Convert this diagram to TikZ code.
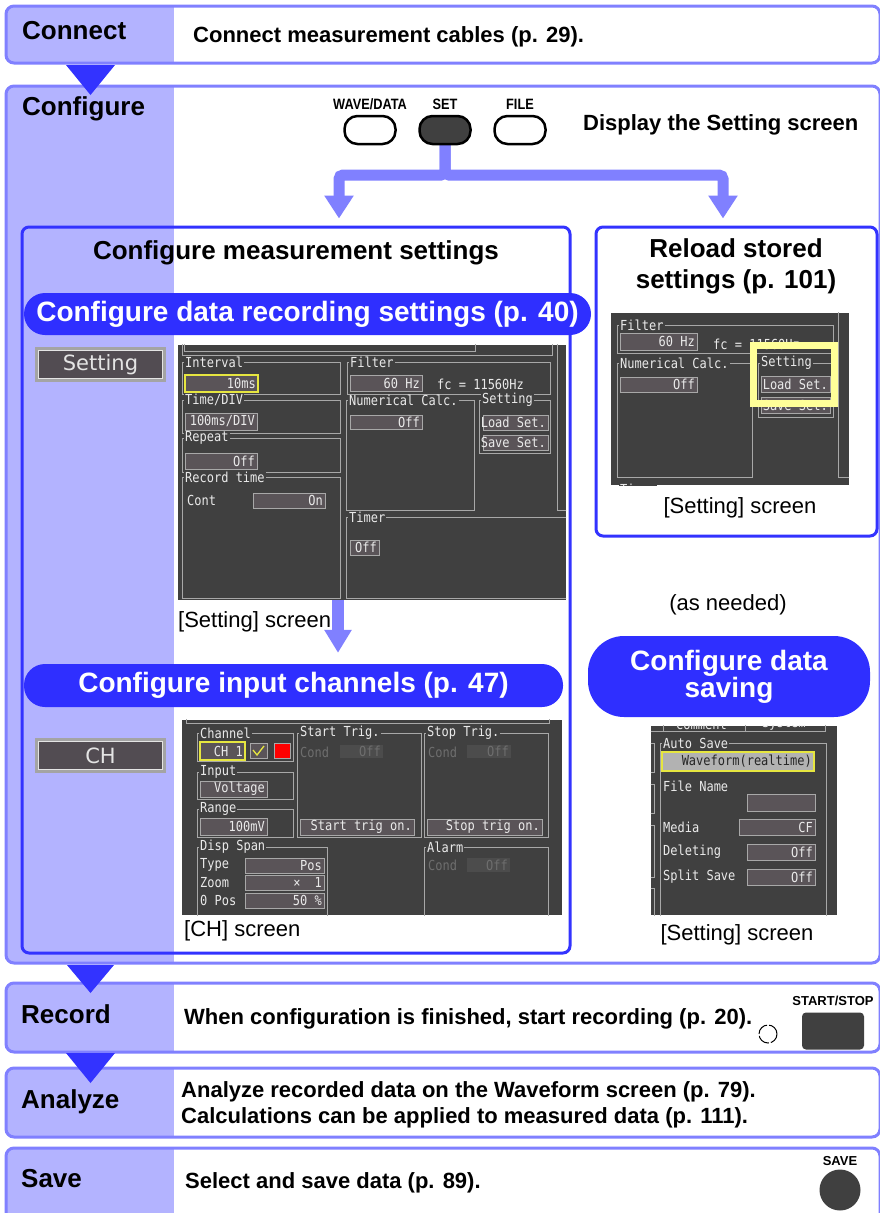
\documentclass[tikz,border=0pt]{standalone}
\usepackage{fontspec}
\setmainfont{Liberation Sans}
\newfontfamily\scrfont{DejaVu Sans Mono}
\newfontfamily\keyfont{DejaVu Sans}
\usetikzlibrary{arrows.meta,positioning}

\definecolor{tabfill}{HTML}{B3B3FF}
\definecolor{tabline}{HTML}{8080FF}
\definecolor{stepblue}{HTML}{3333FF}
\definecolor{pillblue}{HTML}{2F2FFF}
\definecolor{scrbg}{HTML}{404040}
\definecolor{scrline}{HTML}{A8A8A8}
\definecolor{scrfield}{HTML}{5A5458}
\definecolor{scrtext}{HTML}{EAEAEA}
\definecolor{scrdim}{HTML}{6E6E6E}
\definecolor{scrdimfill}{HTML}{4C4C4C}
\definecolor{selframe}{HTML}{E6E640}
\definecolor{hiyellow}{HTML}{FFFF99}
\definecolor{keygray}{HTML}{A4A4A4}
\definecolor{keydark}{HTML}{524C52}
\definecolor{keyline}{HTML}{E4E4E4}

\newcommand{\narrow}[2][0.85]{\scalebox{#1}[1]{#2}}
\newcommand{\tall}[1]{\scalebox{1}[1.15]{#1}}

% one stage of the flow, from top to bottom edge
\newcommand{\stagebox}[2]{%
  \begin{scope}
    \clip[rounded corners=8pt] (6,#1) rectangle (880,#2);
    \fill[white] (6,#1) rectangle (880,#2);
    \fill[tabfill] (6,#1) rectangle (174,#2);
  \end{scope}
  \draw[tabline, line width=3pt, rounded corners=8pt] (6,#1) rectangle (880,#2);}

% framed group on a screen: name, label, corners
\newcommand{\scrgrp}[6]{%
  \draw[scrline, line width=0.8pt] (#3,#4) rectangle (#5,#6);
  \node[scrlabel] (#1) at ({#3+2},#4) {\tall{#2}};}

% value field on a screen: [frame], name, corners, value
\newcommand{\scrfld}[7][]{%
  \draw[scrline, fill=scrfield, line width=0.8pt, #1] (#3,#4) rectangle (#5,#6);
  \node[scrval, anchor=east] (#2) at ({#5-2},{(#4+#6)/2}) {\tall{#7}};}

% greyed-out field
\newcommand{\dimfld}[6]{%
  \fill[scrdimfill] (#2,#3) rectangle (#4,#5);
  \node[scrval, text=scrdim, anchor=east] (#1) at ({#4-2},{(#3+#5)/2}) {\tall{#6}};}

% plain text on a screen
\newcommand{\scrtxt}[4][scrtext]{%
  \node[scrval, text=#1, anchor=west] (#2) at #3 {\tall{#4}};}

% key on the left of a screen
\newcommand{\tabkey}[3]{%
  \fill[keygray] (35,#2) rectangle (166,{#2+35});
  \node[tabkeyface] (#1) at (100.5,{#2+17.5}) {#3};}

\begin{document}
\begin{tikzpicture}[x=1pt, y=-1pt,
    steptitle/.style={anchor=base west, inner sep=0pt, font=\bfseries\fontsize{26}{30}\selectfont},
    stepnote/.style={anchor=base west, inner sep=0pt, align=left, font=\bfseries\fontsize{22}{26}\selectfont},
    heading/.style={anchor=base, inner sep=0pt, align=center, font=\bfseries\fontsize{26}{31}\selectfont},
    caption/.style={inner sep=0pt, font=\fontsize{22}{26}\selectfont},
    innerbox/.style={draw=stepblue, line width=3pt, rounded corners=7pt, inner sep=0pt},
    pill/.style={fill=pillblue, text=white, inner sep=0pt, align=center, font=\bfseries\fontsize{28}{25}\selectfont},
    keycap/.style={draw=black, line width=2.5pt, minimum width=51pt, minimum height=28pt, rounded corners=13pt, inner sep=0pt},
    keylabel/.style={inner sep=0pt, font=\bfseries\fontsize{15}{15}\selectfont},
    fatarrow/.style={tabline, line width=11pt, -{Triangle[width=28pt, length=23pt]}},
    screen/.style={fill=scrbg, inner sep=0pt},
    tabkeyface/.style={fill=keydark, draw=keyline, line width=1.5pt, minimum width=124pt, minimum height=28pt,
      inner sep=0pt, text=keyline, font=\keyfont\fontsize{21}{21}\selectfont},
    scrlabel/.style={anchor=west, fill=scrbg, inner xsep=1pt, inner ysep=0pt, text=scrtext,
      font=\scrfont\fontsize{12}{13}\selectfont},
    scrval/.style={inner sep=0pt, text=scrtext, font=\scrfont\fontsize{12}{13}\selectfont}]

    \useasboundingbox (0,0) rectangle (880,1213);
    \fill[white] (0,0) rectangle (880,1213);

    % stages
    \stagebox{6}{63}
    \stagebox{86}{963}
    \stagebox{983}{1052}
    \stagebox{1068}{1137}
    \stagebox{1148}{1226}

    \fill[stepblue] (66,65) -- (115,65) -- (90.5,95) -- cycle;
    \fill[stepblue] (67,965) -- (114,965) -- (90.5,993) -- cycle;
    \fill[stepblue] (66,1053) -- (115,1053) -- (90.5,1083) -- cycle;

    \node[steptitle] (connect) at (22,39) {Connect};
    \node[stepnote] (connect-n) at (193,42) {Connect measurement cables (p. 29).};
    \node[steptitle] (configure) at (22,115) {Configure};
    \node[stepnote] (configure-n) at (583,130) {Display the Setting screen};
    \node[steptitle] (record) at (21,1023) {Record};
    \node[stepnote] (record-n) at (184,1024) {When configuration is finished, start recording (p. 20).};
    \node[steptitle] (analyze) at (21,1108) {Analyze};
    \node[stepnote] (analyze-n) at (181,1123) {Analyze recorded data on the Waveform screen (p. 79).\\
      Calculations can be applied to measured data (p. 111).};
    \node[steptitle] (save) at (21,1187) {Save};
    \node[stepnote] (save-n) at (185,1188) {Select and save data (p. 89).};

    % inner boxes
    \node[innerbox, minimum width=548pt, minimum height=726pt] (measbox) at (296,590) {};
    \node[innerbox, minimum width=281pt, minimum height=309pt] (loadbox) at (736.5,381.5) {};

    % panel keys
    \coordinate (forkL) at (339,175);
    \coordinate (forkR) at (723,175);
    \draw[fatarrow, rounded corners=4pt, shorten >=7pt] (445,140) |- (forkL) -- (forkL |- measbox.north);
    \draw[fatarrow, rounded corners=4pt, shorten >=7pt] (445,140) |- (forkR) -- (forkR |- loadbox.north);
    \node[keycap, fill=white] (wave) at (370,130) {};
    \node[keycap, fill=scrbg] (set) at (445,130) {};
    \node[keycap, fill=white] (file) at (520,130) {};
    \node[keylabel, above=5pt of wave] (wave-l) {\narrow{WAVE/DATA}};
    \node[keylabel, above=5pt of set] (set-l) {\narrow{SET}};
    \node[keylabel, above=5pt of file] (file-l) {\narrow{FILE}};

    \node[heading] (meas-h) at (296,259) {Configure measurement settings};
    \node[heading] (load-h) at (736,288) {Reload stored\\settings (p. 101)};

    \tabkey{setkey}{347}{Setting}
    \tabkey{chkey}{738}{CH}

    % Setting screen
    \node[screen, minimum width=388pt, minimum height=255pt] (setscr) at (372,472.5) {};
    \begin{scope}
    \clip (setscr.north west) rectangle (setscr.south east);
    \draw[scrline, line width=0.8pt] (182,335) rectangle (552,355) (184,335) rectangle (475,351);
    \draw[scrline, line width=0.8pt] (557,335) -- (557,510) -- (575,510);
    \scrgrp{s-int}{Interval}{182}{362}{340}{394}
    \scrfld[draw=selframe, line width=1.5pt]{s-intf}{185}{375}{258}{392}{10ms}
    \scrgrp{s-flt}{Filter}{347}{362}{550}{394}
    \scrfld{s-fltf}{350}{375}{422}{391}{60 Hz}
    \scrtxt{s-fc}{(437,384)}{fc = 11560Hz}
    \scrgrp{s-tdiv}{Time/DIV}{182}{400}{340}{433}
    \scrfld{s-tdivf}{185}{413}{257}{430}{100ms/DIV}
    \scrgrp{s-num}{Numerical Calc.}{346}{400}{474}{510}
    \scrfld{s-numf}{350}{415}{422}{429}{Off}
    \scrgrp{s-set}{Setting}{479}{400}{550}{453}
    \scrfld{s-load}{483}{415}{548}{430}{Load Set.}
    \scrfld{s-save}{483}{435}{548}{450}{Save Set.}
    \scrgrp{s-rep}{Repeat}{182}{438}{340}{472}
    \scrfld{s-repf}{185}{453}{257}{469}{Off}
    \scrgrp{s-rec}{Record time}{182}{477}{340}{598}
    \scrtxt{s-cont}{(187,500)}{Cont}
    \scrfld{s-contf}{253}{493}{325}{508}{On}
    \scrgrp{s-tmr}{Timer}{346}{517}{580}{598}
    \scrfld{s-tmrf}{350}{540}{379}{555}{Off}
    \end{scope}

    % Setting screen, stored settings
    \node[screen, minimum width=238pt, minimum height=172pt] (loadscr) at (730,399) {};
    \begin{scope}
    \clip (loadscr.north west) rectangle (loadscr.south east);
    \draw[scrline, line width=0.8pt] (838,305) -- (838,477) -- (855,477);
    \scrgrp{l-flt}{Filter}{617}{325}{833}{353}
    \scrfld{l-fltf}{620}{333}{697}{350}{60 Hz}
    \scrtxt{l-fc}{(713,344)}{fc = 11560Hz}
    \scrgrp{l-num}{Numerical Calc.}{617}{363}{752}{477}
    \scrfld{l-numf}{620}{377}{697}{392}{Off}
    \scrgrp{l-set}{Setting}{758}{363}{833}{417}
    \scrfld{l-load}{761}{376}{830}{392}{Load Set.}
    \scrfld{l-save}{761}{397}{830}{413}{Save Set.}
    \scrgrp{l-tmr}{Timer}{617}{489}{760}{540}
    \draw[hiyellow, line width=7pt] (753.5,345.5) rectangle (834.5,403.5);
    \end{scope}

    % CH screen
    \node[screen, minimum width=380pt, minimum height=195pt] (chscr) at (372,817.5) {};
    \begin{scope}
    \clip (chscr.north west) rectangle (chscr.south east);
    \draw[scrline, line width=0.8pt] (186,700) rectangle (549,723);
    \scrgrp{c-ch}{Channel}{197}{733}{293}{761}
    \scrfld[draw=selframe, line width=1.5pt]{c-chf}{200}{742}{245}{760}{CH 1}
    \draw[scrline, fill=scrfield, line width=0.8pt] (250,743) rectangle (267,758);
    \draw[selframe, line width=1.3pt] (253,750) -- (257,755) -- (264,746);
    \draw[scrline, fill=red, line width=0.8pt] (274,743) rectangle (290,758);
    \scrgrp{c-in}{Input}{197}{772}{293}{799}
    \scrfld{c-inf}{200}{781}{267}{797}{Voltage}
    \scrgrp{c-rng}{Range}{197}{809}{293}{837}
    \scrfld{c-rngf}{200}{818}{267}{835}{100mV}
    \scrgrp{c-st}{Start Trig.}{297}{733}{421}{837}
    \scrtxt[scrdim]{c-stc}{(300,752)}{Cond}
    \dimfld{c-stf}{340}{745}{383}{758}{Off}
    \scrfld{c-stb}{300}{819}{414}{835}{Start trig on.}
    \scrgrp{c-sp}{Stop Trig.}{424}{733}{548}{837}
    \scrtxt[scrdim]{c-spc}{(428,752)}{Cond}
    \dimfld{c-spf}{467}{745}{511}{758}{Off}
    \scrfld{c-spb}{427}{819}{542}{835}{Stop trig on.}
    \scrgrp{c-ds}{Disp Span}{197}{847}{327}{925}
    \scrtxt{c-type}{(200,865)}{Type}
    \scrfld{c-typef}{245}{858}{324}{873}{Pos}
    \scrtxt{c-zoom}{(200,883)}{Zoom}
    \scrfld{c-zoomf}{245}{875}{324}{890}{×\hspace{14pt}1}
    \scrtxt{c-pos}{(200,900)}{0 Pos}
    \scrfld{c-posf}{245}{893}{324}{908}{50 \%}
    \scrgrp{c-al}{Alarm}{424}{847}{548}{925}
    \scrtxt[scrdim]{c-alc}{(428,865)}{Cond}
    \dimfld{c-alf}{467}{858}{510}{872}{Off}
    \end{scope}

    % Setting screen, auto save
    \node[screen, minimum width=186pt, minimum height=189pt] (savescr) at (744,820.5) {};
    \begin{scope}
    \clip (savescr.north west) rectangle (savescr.south east);
    \draw[scrline, line width=0.8pt] (640,712) rectangle (663,731) (663,712) rectangle (745,731)
        (745,712) rectangle (825,731);
    \scrtxt{v-tab1}{(676,724)}{Comment}
    \scrtxt{v-tab2}{(762,724)}{System}
    \draw[scrline, line width=0.8pt] (640,743) rectangle (654,772) (640,784) rectangle (654,813)
        (640,825) rectangle (654,877) (640,888) rectangle (654,930);
    \scrgrp{v-auto}{Auto Save}{660}{743}{826}{930}
    \draw[selframe, fill=black!30, line width=1.5pt] (662,752) rectangle (814,771);
    \node[scrval, text=black!85, anchor=east] (v-wave) at (812,761.5) {\tall{Waveform(realtime)}};
    \scrtxt{v-fn}{(663,786)}{File Name}
    \scrfld{v-fnf}{747}{794}{815}{811}{}
    \scrtxt{v-med}{(663,827)}{Media}
    \scrfld{v-medf}{739}{819}{815}{835}{CF}
    \scrtxt{v-del}{(663,852)}{Deleting}
    \scrfld{v-delf}{747}{844}{815}{860}{Off}
    \scrtxt{v-spl}{(663,877)}{Split Save}
    \scrfld{v-splf}{747}{869}{815}{885}{Off}
    \end{scope}

    % sub-steps
    \node[pill, minimum width=567pt, minimum height=42pt, rounded corners=21pt] (recpill) at (307.5,314)
        {Configure data recording settings (p. 40)};
    \node[pill, minimum width=539pt, minimum height=43pt, rounded corners=21pt] (chpill) at (293.5,685.5)
        {Configure input channels (p. 47)};
    \node[pill, minimum width=282pt, minimum height=81pt, rounded corners=36pt] (savepill) at (729,676.5)
        {Configure data\\saving};
    \coordinate (dropx) at (338,0);
    \draw[fatarrow, line width=12pt, -{Triangle[width=26pt, length=23pt]}, shorten >=11pt]
        (setscr.south -| dropx) -- (chpill.north -| dropx);

    \node[caption, anchor=base west] (setscr-c) at (178,627) {[Setting] screen};
    \node[caption, anchor=base] (loadscr-c) at (740,513) {[Setting] screen};
    \node[caption, anchor=base west] (chscr-c) at (184,936) {[CH] screen};
    \node[caption, anchor=base] (savescr-c) at (737,940) {[Setting] screen};
    \node[caption, anchor=base] (asneeded) at (728,610) {(as needed)};

    % keys in the last stages
    \node[circle, draw, line width=1pt, dash pattern=on 13pt off 2pt, minimum size=18pt, inner sep=0pt] (led) at (768,1034) {};
    \node[fill=scrbg, rounded corners=4pt, minimum width=62pt, minimum height=37pt, inner sep=0pt] (startkey) at (833,1031) {};
    \node[keylabel, above=6pt of startkey, font=\bfseries\fontsize{13}{13}\selectfont] (startkey-l) {START/STOP};
    \node[circle, fill=scrbg, minimum size=41pt, inner sep=0pt] (savekey) at (840,1190) {};
    \node[keylabel, above=3pt of savekey, font=\bfseries\fontsize{13}{13}\selectfont] (savekey-l) {SAVE};
\end{tikzpicture}
\end{document}
